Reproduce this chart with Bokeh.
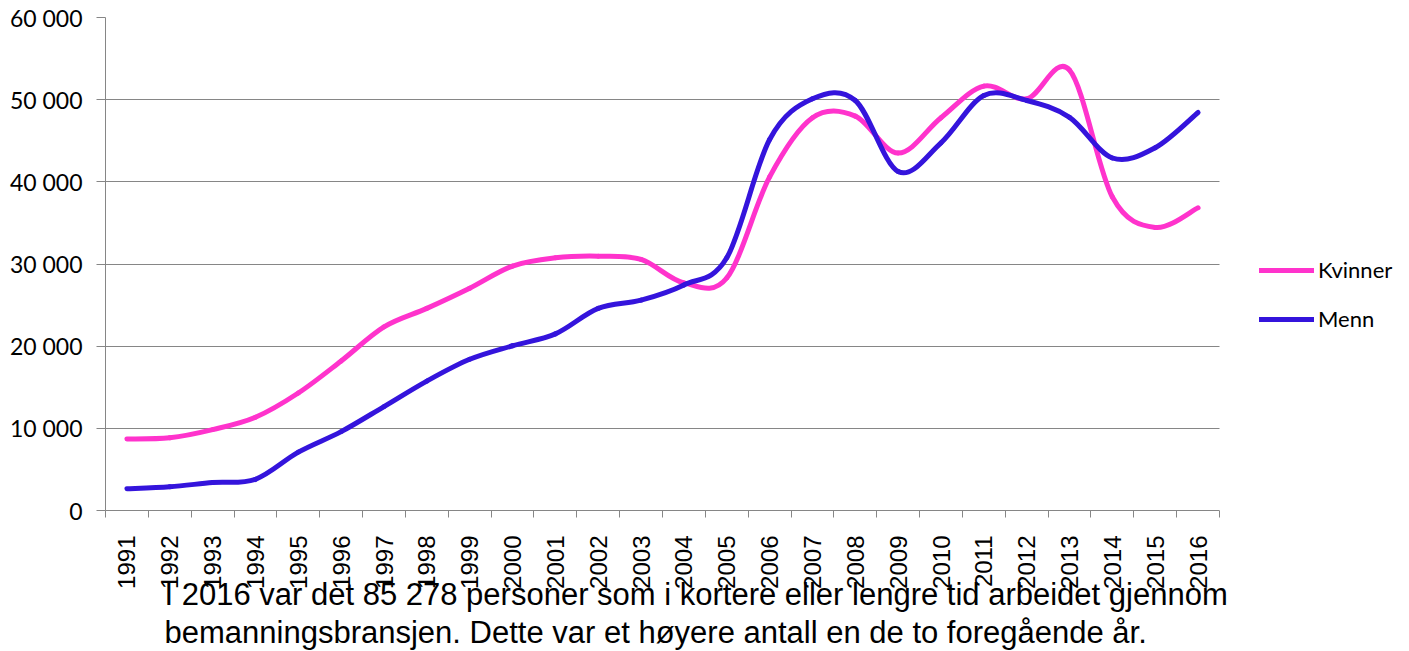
import numpy as np
from bokeh.plotting import figure
from bokeh.models import (Range1d, FixedTicker, Legend, LegendItem, Title,
                          ColumnDataSource, BoxAnnotation)
from bokeh.embed import file_html
from bokeh.resources import INLINE

years = list(range(1991, 2017))
kvinner = [8700, 8850, 9850, 11350, 14300, 18200, 22350, 24600, 27050, 29750,
           30750, 30950, 30550, 27700, 28300, 40600, 47800, 48000, 43500, 47800,
           51650, 50100, 53600, 38150, 34450, 36840]
menn = [2650, 2900, 3400, 3800, 7100, 9600, 12650, 15750, 18400, 20050,
        21500, 24600, 25600, 27450, 30750, 45150, 50100, 49900, 41250, 44750,
        50500, 49900, 47850, 42900, 44150, 48440]
y_ticks = [0, 10000, 20000, 30000, 40000, 50000, 60000]
y_tick_labels = ["0", "10 000", "20 000", "30 000", "40 000", "50 000", "60 000"]
series_names = ["Kvinner", "Menn"]
colors = ["#FF33CC", "#3414DC"]
caption1 = "I 2016 var det 85 278 personer som i kortere eller lengre tid arbeidet gjennom"
caption2 = "bemanningsbransjen. Dette var et høyere antall en de to foregående år."


def bezier_source(xs, ys):
    xs = np.asarray(xs, dtype=float)
    ys = np.asarray(ys, dtype=float)
    n = len(xs)
    d = dict(x0=[], y0=[], x1=[], y1=[], cx0=[], cy0=[], cx1=[], cy1=[])
    for i in range(n - 1):
        a = max(i - 1, 0)
        b = min(i + 2, n - 1)
        d["x0"].append(xs[i]); d["y0"].append(ys[i])
        d["x1"].append(xs[i + 1]); d["y1"].append(ys[i + 1])
        d["cx0"].append(xs[i] + (xs[i + 1] - xs[a]) / 6)
        d["cy0"].append(ys[i] + (ys[i + 1] - ys[a]) / 6)
        d["cx1"].append(xs[i + 1] - (xs[b] - xs[i]) / 6)
        d["cy1"].append(ys[i + 1] - (ys[b] - ys[i]) / 6)
    return ColumnDataSource(d)


W, H = 1409, 651
LEFT, AXIS_END = 105, 1219          # pixel extent of the category axis
x_start = years[0] - 0.5
x_axis_end = years[-1] + 0.5
x_end = x_start + (x_axis_end - x_start) * (W - LEFT) / (AXIS_END - LEFT)

p = figure(width=W, height=H, output_backend="svg", toolbar_location=None,
           x_range=Range1d(x_start, x_end), y_range=Range1d(0, 60000),
           min_border_left=LEFT, min_border_right=0, min_border_top=17,
           min_border_bottom=141)
p.outline_line_color = None
p.background_fill_color = "white"
p.border_fill_color = "white"

grey = "#868686"
# x axis
xa = p.xaxis[0]
xa.ticker = FixedTicker(ticks=years, minor_ticks=[x_start + i for i in range(len(years) + 1)])
xa.bounds = (x_start, x_axis_end)
xa.major_tick_out = 0
xa.major_tick_in = 0
xa.minor_tick_out = 7
xa.minor_tick_in = 0
xa.minor_tick_line_color = grey
xa.axis_line_color = grey
xa.major_label_orientation = np.pi / 2
xa.major_label_text_font = "Liberation Sans"
xa.major_label_text_font_size = "24px"
xa.major_label_text_color = "black"
xa.major_label_standoff = 18
p.xgrid.grid_line_color = None

# y axis
ya = p.yaxis[0]
ya.ticker = FixedTicker(ticks=y_ticks)
ya.major_label_overrides = {t: l for t, l in zip(y_ticks, y_tick_labels)}
ya.major_tick_out = 9
ya.major_tick_in = 0
ya.minor_tick_line_color = None
ya.major_tick_line_color = grey
ya.axis_line_color = grey
ya.major_label_text_font = "Lato"
ya.major_label_text_font_size = "23px"
ya.major_label_text_color = "black"
ya.major_label_standoff = 14
p.ygrid.grid_line_color = grey
p.ygrid.grid_line_width = 1
p.ygrid.ticker = FixedTicker(ticks=y_ticks)

renderers = []
for vals, c in zip([kvinner, menn], colors):
    src = bezier_source(years, vals)
    r = p.bezier(x0="x0", y0="y0", x1="x1", y1="y1", cx0="cx0", cy0="cy0",
                 cx1="cx1", cy1="cy1", source=src, line_color=c, line_width=5,
                 line_cap="round", line_join="round")
    renderers.append(r)

# blank area right of the category axis (legend area): hide grid lines there
p.add_layout(BoxAnnotation(left=x_axis_end, fill_color="white", fill_alpha=1.0,
                           line_color=None))

legend = Legend(items=[LegendItem(label=n, renderers=[r]) for n, r in zip(series_names, renderers)],
                location=(1259 - LEFT, 178), orientation="vertical",
                glyph_width=55, glyph_height=20, label_height=20, label_standoff=4,
                spacing=22, padding=0, margin=0,
                border_line_color=None, background_fill_alpha=0,
                label_text_font="Lato", label_text_font_size="22px",
                label_text_color="black")
p.add_layout(legend)

caption = Title(text=caption1 + "\n" + caption2, align="left", offset=59, standoff=-35,
                text_font="Liberation Sans", text_font_size="31px",
                text_line_height=1.1, text_font_style="normal", text_color="black")
p.add_layout(caption, "below")

open("out.html", "w").write(file_html(p, INLINE))
